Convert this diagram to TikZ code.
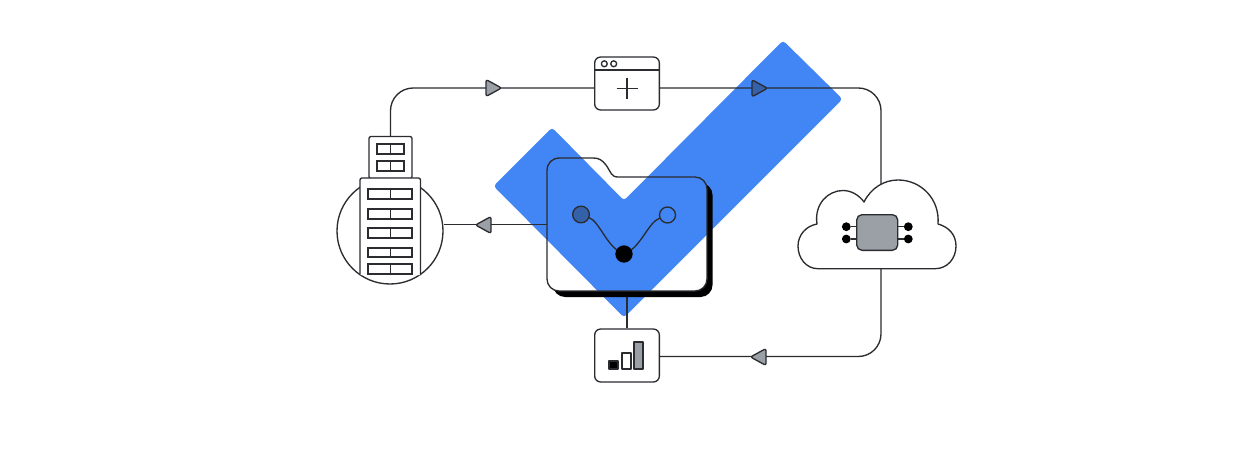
\documentclass[tikz,border=0pt]{standalone}
\definecolor{checkblue}{HTML}{4285F4}
\definecolor{deepblue}{HTML}{3561A9}
\definecolor{midgrey}{HTML}{9AA0A6}
\definecolor{ink}{HTML}{2A2C30}
\tikzset{
  wire/.style={draw=ink,line width=1pt},
  wirebent/.style={wire,rounded corners=17pt},
  outline/.style={draw=ink,line width=1pt,line join=round},
  boxnode/.style={outline,fill=white,rounded corners=4.5pt,inner sep=0pt,minimum width=48.5pt,minimum height=39.75pt},
  paneel/.style={outline,fill=white},
  triangle tip/.pic={
    \path[outline,fill=#1,rounded corners=1.6pt] (-7.5,-8.5) -- (8,0) -- (-7.5,8.5) -- cycle;
  },
  dotnode/.style={circle,inner sep=0pt,fill=black,minimum size=6.6pt},
  windowbar/.style={draw=ink,line width=0.9pt,fill=white}
}
\begin{document}
\begin{tikzpicture}[x=0.75pt,y=-0.75pt]
\useasboundingbox (0,0) rectangle (1252,449);
\fill[white] (0,0) rectangle (1252,449);

% check mark
\fill[checkblue,rounded corners=2.5pt] (783,40.5) -- (842.5,99) -- (624,317.5) -- (493.5,186) -- (552,127.5) -- (624,200.5) -- cycle;

% anchors
\node[inner sep=0pt,minimum width=120pt,minimum height=99.75pt] (folder) at (627,224.5) {};
\node[circle,outline,fill=white,inner sep=0pt,minimum size=79.5pt] (hub) at (390,231) {};
\node[boxnode] (browser) at (627,83.5) {};
\node[boxnode] (chart) at (627,355.5) {};
\node[inner sep=0pt,minimum size=15.75pt] (plus) at (627,88) {};
\coordinate (chartin) at (659,356.5);
\coordinate (cloudtop) at (881,195);
\coordinate (cloudbottom) at (881,268.5);
\node[outline,fill=white,rounded corners=1.5pt,inner sep=0pt,minimum width=32.25pt,minimum height=31.5pt] (tower) at (390.5,157.5) {};

% connectors
\draw[wirebent] (tower.north) |- (browser.west |- plus);
\draw[wirebent] (browser.east |- plus) -| (cloudtop);
\draw[wirebent] (cloudbottom) |- (chartin);
\draw[wire] (folder.west) -- (folder.west -| hub.east);
\draw[wire] (folder.south) -- (chart.north);

% shadow of the folder (only outside the folder)
\begin{scope}[even odd rule,rounded corners=9pt]
\clip (0,0) -- (1252,0) -- (1252,449) -- (0,449) -- cycle
  (547,224) -- (547,291) -- (707,291) -- (707,177) -- (620,177) -- (620,158) -- (547,158) -- cycle;
\fill[black] (553,183) rectangle (712.5,297);
\end{scope}

% folder outline
\draw[outline,rounded corners=9pt] (547,224) -- (547,291) -- (707,291) -- (707,177) -- (640,177);
\draw[outline] (640,177) -- (618,177) .. controls (611,177) and (611,172) .. (606,165) .. controls (602,160) and (599,158) .. (593,158) -- (560,158) .. controls (552,158) and (547,163) .. (547,171) -- (547,224);

% flow inside folder
\draw[wire] (589,217.5) .. controls (600,222) and (607,248) .. (624,254) .. controls (641,248) and (648,222) .. (660,218);
\node[circle,outline,fill=deepblue,inner sep=0pt,minimum size=12.5pt] (nodeleft) at (581,214.5) {};
\node[circle,outline,fill=checkblue,inner sep=0pt,minimum size=12pt] (noderight) at (667.5,215) {};
\node[circle,fill=black,inner sep=0pt,minimum size=13pt] (nodemid) at (624,254) {};

% browser content
\draw[outline] (browser.west |- 0,70) -- (browser.east |- 0,70);
\draw[outline] (604.3,63.8) circle[radius=2.2pt];
\draw[outline] (613.7,63.8) circle[radius=2.2pt];
\draw[outline] (616.5,88.5) -- (637.5,88.5);
\draw[outline] (627,78) -- (627,99);

% chart bars
\path[paneel,fill=black] (609,361) rectangle (618,369);
\path[paneel] (622,353) rectangle (631,369);
\path[paneel,fill=midgrey] (634,342) rectangle (643,369);

% building
\draw[windowbar] (377,144) rectangle (404,154);
\draw[windowbar] (390.5,144) -- (390.5,154);
\draw[windowbar] (377,161) rectangle (404,171);
\draw[windowbar] (390.5,161) -- (390.5,171);
\path[outline,fill=white,rounded corners=1.5pt] (360,275) -- (360,178) -- (420.5,178) -- (420.5,275);
\foreach \ya/\yb in {189/199,209/219,228/238,248/257,264/274}{
  \draw[windowbar] (368,\ya) rectangle (412,\yb);
  \draw[windowbar] (390.5,\ya) -- (390.5,\yb);
}

% cloud
\path[outline,fill=white] (818,268.7) .. controls (806,268.7) and (798,258) .. (798,246)
  .. controls (798,235) and (806,226) .. (817,224)
  .. controls (814,204) and (828,190.5) .. (843,190.5)
  .. controls (851,190.5) and (859,195) .. (864,202)
  .. controls (871,188) and (884,180) .. (898,180)
  .. controls (921,180) and (940,199) .. (938,224)
  .. controls (949,227) and (956,235) .. (956,246)
  .. controls (956,259) and (947,268.7) .. (935,268.7) -- cycle;
\node[outline,fill=midgrey,rounded corners=4pt,inner sep=0pt,minimum width=30.75pt,minimum height=26.75pt] (chip) at (877.2,232.5) {};
\node[dotnode] (pinA) at (846.3,226.7) {};
\node[dotnode] (pinB) at (846.3,239) {};
\node[dotnode] (pinC) at (908.3,226.7) {};
\node[dotnode] (pinD) at (908.3,239) {};
\draw[wire] (pinA) -- (pinA -| chip.west);
\draw[wire] (pinB) -- (pinB -| chip.west);
\draw[wire] (pinC) -- (pinC -| chip.east);
\draw[wire] (pinD) -- (pinD -| chip.east);

% arrowheads
\pic at (493.5,88) {triangle tip=midgrey};
\pic at (759.5,88.3) {triangle tip=deepblue};
\pic[rotate=180] at (483.5,225) {triangle tip=midgrey};
\pic[rotate=180] at (758.5,357) {triangle tip=midgrey};
\end{tikzpicture}
\end{document}
